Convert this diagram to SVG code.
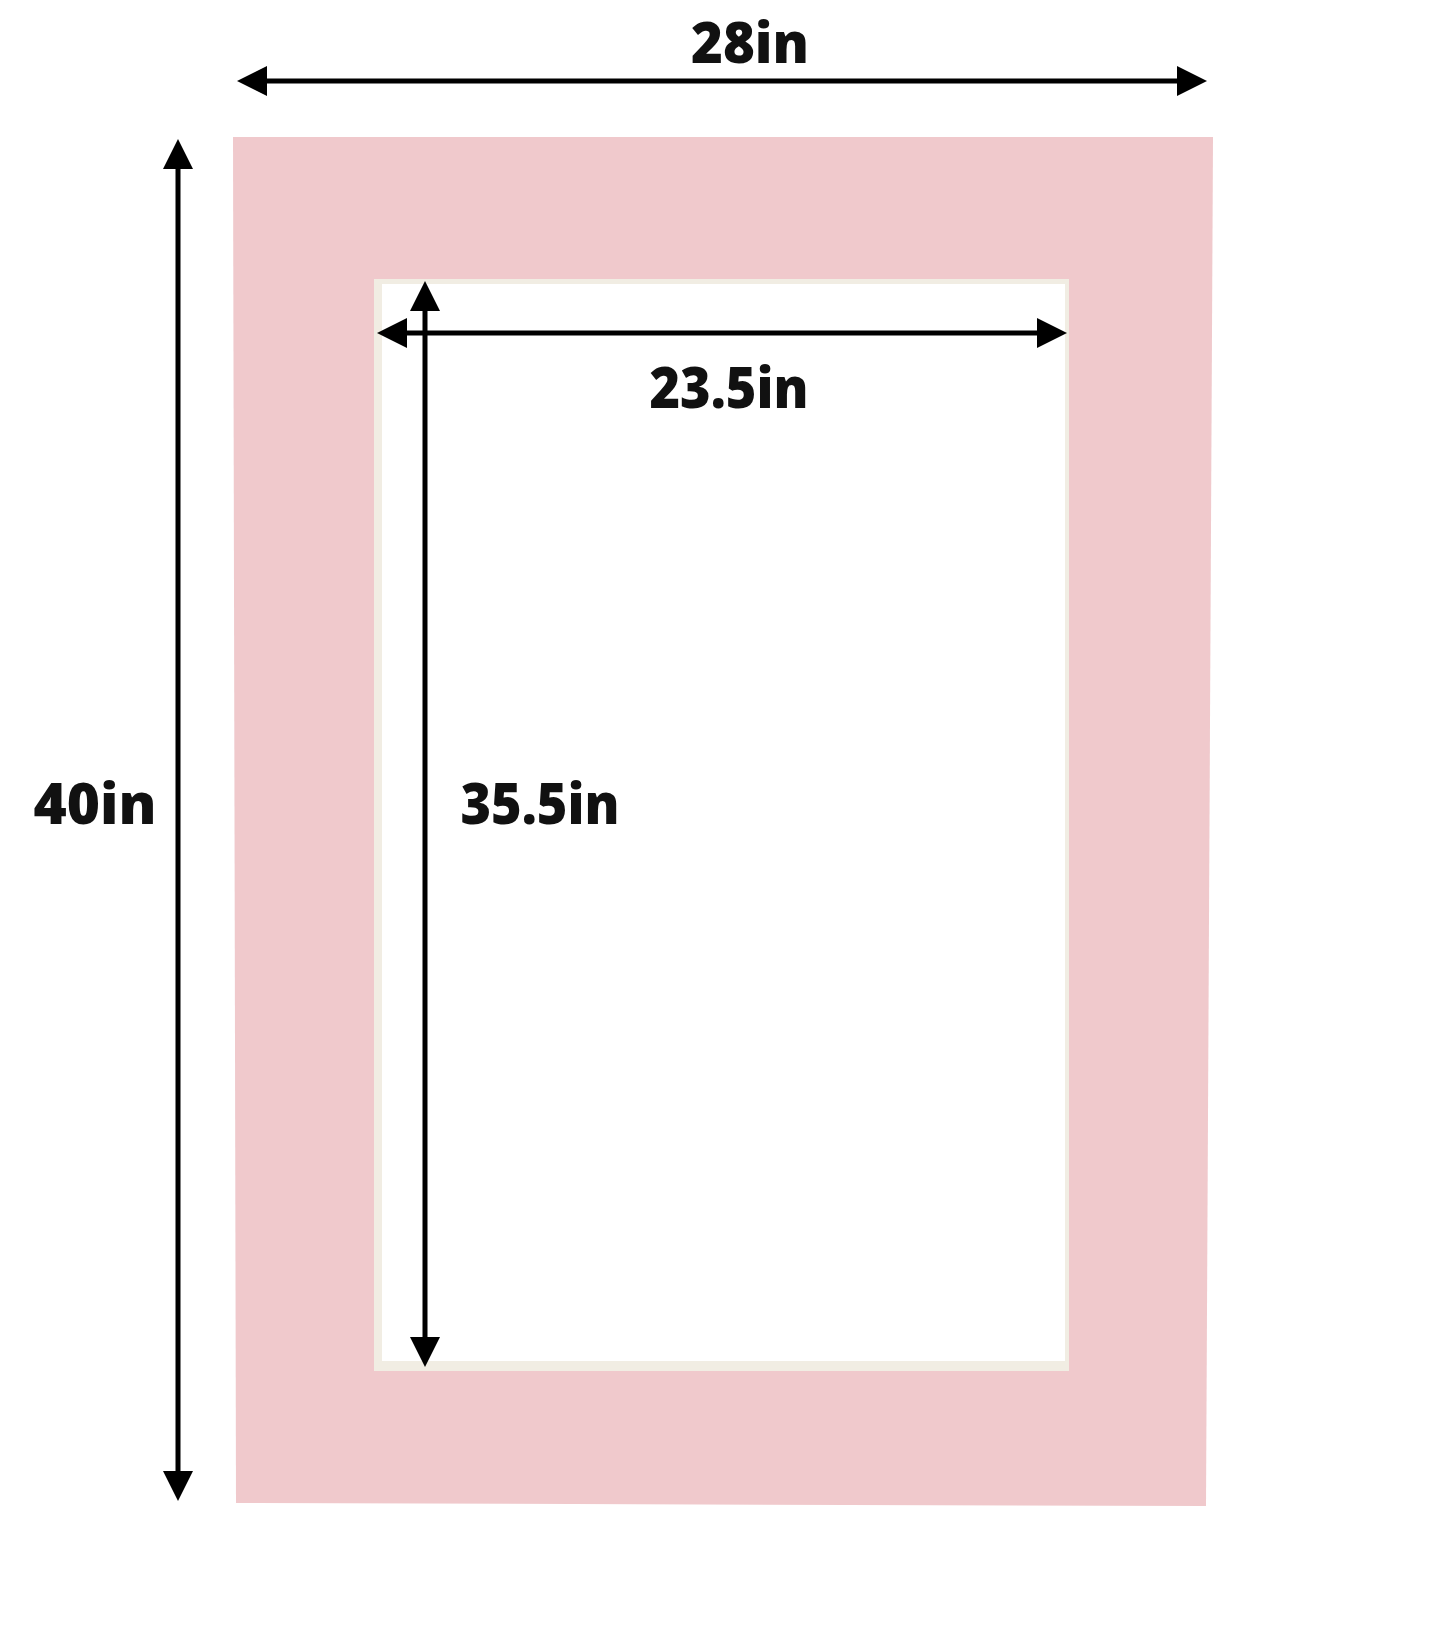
<svg xmlns="http://www.w3.org/2000/svg" width="1445" height="1645" viewBox="0 0 1445 1645">
  <style>
    .lbl { font-family: "Open Sans", "Liberation Sans", sans-serif; font-weight: 800; font-size: 56px; fill: #111111; text-anchor: middle; }
    .dim { stroke: #000000; stroke-width: 5; fill: none; marker-start: url(#head); marker-end: url(#head); }
  </style>
  <defs>
    <marker id="head" viewBox="0 0 30 30" markerWidth="30" markerHeight="30" markerUnits="userSpaceOnUse" refX="10" refY="15" orient="auto-start-reverse">
      <path d="M0,0 L30,15 L0,30 Z" fill="#000000"/>
    </marker>
  </defs>
  <rect x="0" y="0" width="1445" height="1645" fill="#ffffff"/>
  <g id="mat">
    <polygon points="233,137 1213,137 1206,1506 236,1503" fill="#F0C9CC"/>
    <rect x="374" y="279" width="695" height="1092" fill="#F1EDE3"/>
    <rect x="382" y="284" width="683" height="1077" fill="#ffffff"/>
  </g>
  <g id="connectors">
    <line class="dim" x1="257" y1="81" x2="1187" y2="81"/>
    <line class="dim" x1="178" y1="159" x2="178" y2="1481"/>
    <line class="dim" x1="397" y1="333" x2="1047" y2="333"/>
    <line class="dim" x1="425" y1="301" x2="425" y2="1347"/>
  </g>
  <g id="labels">
    <text class="lbl" x="750" y="63" textLength="118" lengthAdjust="spacingAndGlyphs">28in</text>
    <text class="lbl" x="729" y="408" textLength="159" lengthAdjust="spacingAndGlyphs">23.5in</text>
    <text class="lbl" x="95" y="824" textLength="123" lengthAdjust="spacingAndGlyphs">40in</text>
    <text class="lbl" x="540" y="824" textLength="159" lengthAdjust="spacingAndGlyphs">35.5in</text>
  </g>
</svg>
